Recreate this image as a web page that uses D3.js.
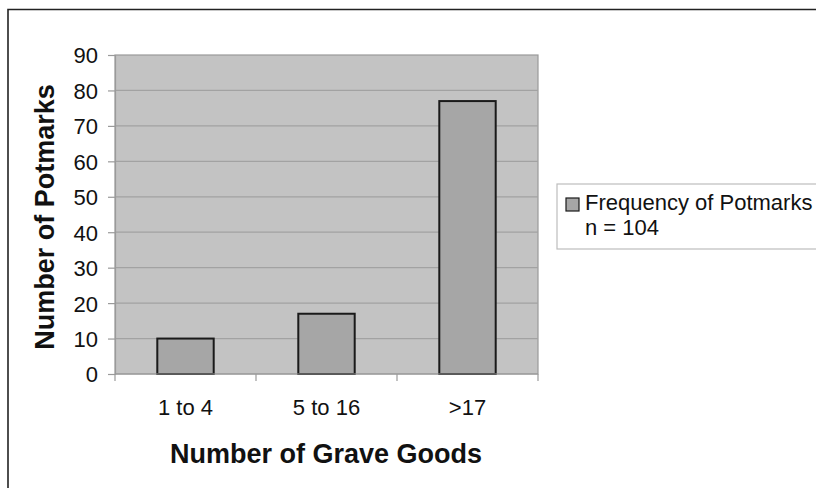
<!DOCTYPE html>
<html>
<head>
<meta charset="utf-8">
<script src="https://cdn.jsdelivr.net/npm/d3@7"></script>
<style>
  html, body { margin: 0; padding: 0; background: #fff; }
  svg { display: block; }
  text { font-family: "Liberation Sans", Arial, sans-serif; fill: #111; }
</style>
</head>
<body>
<svg id="chart" width="816" height="488"></svg>
<script>
// Potmark frequency by number of grave goods
const categories = ["1 to 4", "5 to 16", ">17"];
const potmarks = [10, 17, 77];
const yTicks = [0, 10, 20, 30, 40, 50, 60, 70, 80, 90];
const legendLines = ["Frequency of Potmarks", "n = 104"];

const svg = d3.select("#chart");
const plot = { left: 115, top: 55, right: 538, bottom: 374 };

// outer frame (runs off the right and bottom edges)
svg.append("path")
  .attr("d", "M8,500 L8,9.5 L830,9.5")
  .attr("fill", "none").attr("stroke", "#222").attr("stroke-width", 1.6);

const xBand = d3.scaleBand().domain(categories).range([plot.left, plot.right]);
const y = d3.scaleLinear().domain([0, 90]).range([plot.bottom, plot.top]);
const barWidth = xBand.bandwidth() / 2.5;

// plot background
svg.append("rect")
  .attr("x", plot.left).attr("y", plot.top)
  .attr("width", plot.right - plot.left).attr("height", plot.bottom - plot.top)
  .attr("fill", "#c3c3c3").attr("stroke", "#9a9a9a").attr("stroke-width", 1.2);

// horizontal gridlines
svg.append("g").selectAll("line").data(yTicks.filter(t => t > 0 && t < 90)).join("line")
  .attr("x1", plot.left).attr("x2", plot.right)
  .attr("y1", d => y(d)).attr("y2", d => y(d))
  .attr("stroke", "#a2a2a2").attr("stroke-width", 1.2);

// bars
svg.append("g").selectAll("rect").data(categories).join("rect")
  .attr("x", d => xBand(d) + (xBand.bandwidth() - barWidth) / 2)
  .attr("width", barWidth)
  .attr("y", (d, i) => y(potmarks[i]))
  .attr("height", (d, i) => y(0) - y(potmarks[i]))
  .attr("fill", "#a6a6a6").attr("stroke", "#1a1a1a").attr("stroke-width", 2);

// y axis
const yAxis = svg.append("g").attr("transform", `translate(${plot.left},0)`)
  .call(d3.axisLeft(y).tickValues(yTicks).tickSize(7).tickPadding(10));
yAxis.select(".domain").attr("stroke", "#9a9a9a").attr("stroke-width", 1.2);
yAxis.selectAll(".tick line").attr("stroke", "#9a9a9a").attr("stroke-width", 1.2);
yAxis.selectAll(".tick text").attr("font-size", 22).attr("fill", "#111")
  .attr("font-family", "Liberation Sans, Arial, sans-serif").attr("dy", "0.36em");

// x axis: ticks at category boundaries, labels centred in each band
const xAxisG = svg.append("g").attr("transform", `translate(0,${plot.bottom})`);
xAxisG.append("line").attr("x1", plot.left).attr("x2", plot.right)
  .attr("stroke", "#9a9a9a").attr("stroke-width", 1.2);
const bounds = categories.map(c => xBand(c)).concat([plot.right]);
xAxisG.selectAll("line.tk").data(bounds).join("line").attr("class", "tk")
  .attr("x1", d => d).attr("x2", d => d).attr("y1", 0).attr("y2", 7)
  .attr("stroke", "#9a9a9a").attr("stroke-width", 1.2);
xAxisG.selectAll("text").data(categories).join("text")
  .attr("x", d => xBand(d) + xBand.bandwidth() / 2)
  .attr("y", 41)
  .attr("text-anchor", "middle").attr("font-size", 22)
  .text(d => d);

// axis titles
svg.append("text")
  .attr("transform", `translate(54,217) rotate(-90)`)
  .attr("text-anchor", "middle").attr("font-size", 27).attr("font-weight", "bold")
  .text("Number of Potmarks");
svg.append("text")
  .attr("x", 326).attr("y", 463)
  .attr("text-anchor", "middle").attr("font-size", 27).attr("font-weight", "bold")
  .text("Number of Grave Goods");

// legend
const lg = svg.append("g");
lg.append("rect").attr("x", 557).attr("y", 184).attr("width", 280).attr("height", 65)
  .attr("fill", "#fff").attr("stroke", "#bdbdbd").attr("stroke-width", 1.2);
lg.append("rect").attr("x", 566).attr("y", 198).attr("width", 13).attr("height", 13)
  .attr("fill", "#a6a6a6").attr("stroke", "#1a1a1a").attr("stroke-width", 1.2);
lg.selectAll("text.l").data(legendLines).join("text").attr("class", "l")
  .attr("x", 585).attr("y", (d, i) => 210 + i * 25)
  .attr("font-size", 22)
  .text(d => d);
</script>
</body>
</html>
